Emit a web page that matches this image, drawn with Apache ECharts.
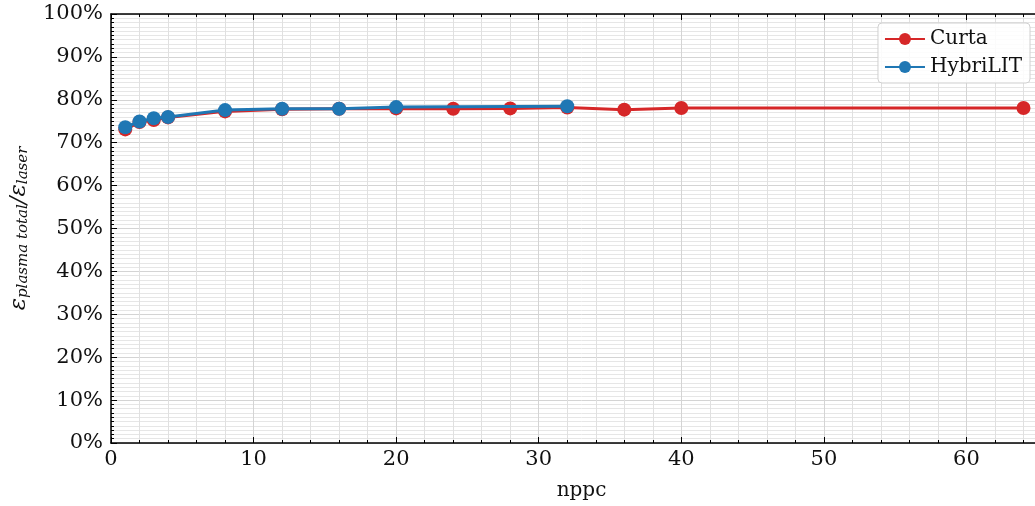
<!DOCTYPE html>
<html><head><meta charset="utf-8">
<script src="https://cdn.jsdelivr.net/npm/echarts@6/dist/echarts.min.js"></script>
<style>html,body{margin:0;padding:0;background:#fff;overflow:hidden}#c{width:1055px;height:506px}</style>
</head><body><div id="c"></div>
<script>
const curtaX = [1, 2, 3, 4, 8, 12, 16, 20, 24, 28, 32, 36, 40, 64];
const curtaY = [73.1, 74.8, 75.3, 75.9, 77.3, 77.8, 77.9, 78.0, 77.9, 78.0, 78.2, 77.7, 78.1, 78.1];
const hybX = [1, 2, 3, 4, 8, 12, 16, 20, 32];
const hybY = [73.6, 74.95, 75.7, 76.0, 77.6, 77.9, 77.9, 78.3, 78.5];
const xTicks = [0, 10, 20, 30, 40, 50, 60];
const yTicks = [0, 10, 20, 30, 40, 50, 60, 70, 80, 90, 100];

const FONT = 'DejaVu Serif';
const chart = echarts.init(document.getElementById('c'), null, {renderer: 'canvas'});
const pair = (xs, ys) => xs.map((x, i) => [x, ys[i]]);
const xCommon = {
  type: 'value', min: 0, max: 66, interval: 10,
  axisLine: {show: true, onZero: false, lineStyle: {color: '#000', width: 1.5}},
  axisTick: {show: true, inside: true, length: 6, lineStyle: {color: '#000', width: 1}},
  minorTick: {show: true, splitNumber: 5, length: 3, lineStyle: {color: '#000', width: 1}},
};
chart.setOption({
  animation: false,
  textStyle: {fontFamily: FONT},
  grid: {left: 110, top: 14, bottom: 59, right: 1, containLabel: false},
  legend: {
    right: 25, top: 23, orient: 'vertical',
    data: ['Curta', 'HybriLIT'],
    itemWidth: 40, itemHeight: 15, itemGap: 8,
    textStyle: {fontFamily: FONT, fontSize: 20, color: '#111'},
    backgroundColor: 'rgba(255,255,255,0.85)',
    borderColor: '#d0d0d0', borderWidth: 1, borderRadius: 4,
    padding: [6, 8, 6, 6]
  },
  xAxis: [
    Object.assign({}, xCommon, {
      position: 'bottom',
      name: 'nppc', nameLocation: 'middle', nameGap: 38,
      nameTextStyle: {fontFamily: FONT, fontSize: 20, color: '#111'},
      axisLabel: {show: true, fontFamily: FONT, fontSize: 21, color: '#111', margin: 6,
        formatter: v => xTicks.includes(v) ? String(v) : ''},
      splitLine: {show: true, lineStyle: {color: '#d4d4d4', width: 1}},
      minorSplitLine: {show: true, lineStyle: {color: '#e0e0e0', width: 1}}
    }),
    Object.assign({}, xCommon, {
      position: 'top',
      axisLabel: {show: false},
      splitLine: {show: false}, minorSplitLine: {show: false}
    })
  ],
  yAxis: {
    type: 'value', min: 0, max: 100, interval: 10,
    name: '{e|ε}{s|plasma total}{e|/ε}{s|laser}',
    nameLocation: 'middle', nameGap: 80, nameRotate: 90,
    nameTextStyle: {
      rich: {
        e: {fontFamily: FONT, fontStyle: 'italic', fontSize: 23, color: '#111'},
        s: {fontFamily: FONT, fontStyle: 'italic', fontSize: 15, color: '#111', verticalAlign: 'bottom', padding: [8, 0, 0, 0]}
      }
    },
    axisLine: {show: true, lineStyle: {color: '#000', width: 1.5}},
    axisTick: {show: true, inside: true, length: 6, lineStyle: {color: '#000', width: 1}},
    minorTick: {show: true, splitNumber: 10, length: 3, lineStyle: {color: '#000', width: 1}},
    axisLabel: {fontFamily: FONT, fontSize: 21, color: '#111', margin: 8,
      formatter: v => yTicks.includes(v) ? v + '%' : ''},
    splitLine: {show: true, lineStyle: {color: '#d4d4d4', width: 1}},
    minorSplitLine: {show: true, lineStyle: {color: '#e6e6e6', width: 1}}
  },
  series: [
    {name: 'Curta', type: 'line', data: pair(curtaX, curtaY),
      symbol: 'circle', symbolSize: 14, color: '#d62728',
      lineStyle: {width: 3, color: '#d62728'}, itemStyle: {color: '#d62728'}, z: 2},
    {name: 'HybriLIT', type: 'line', data: pair(hybX, hybY),
      symbol: 'circle', symbolSize: 14, color: '#1f77b4',
      lineStyle: {width: 3, color: '#1f77b4'}, itemStyle: {color: '#1f77b4'}, z: 3}
  ]
});
</script></body></html>
